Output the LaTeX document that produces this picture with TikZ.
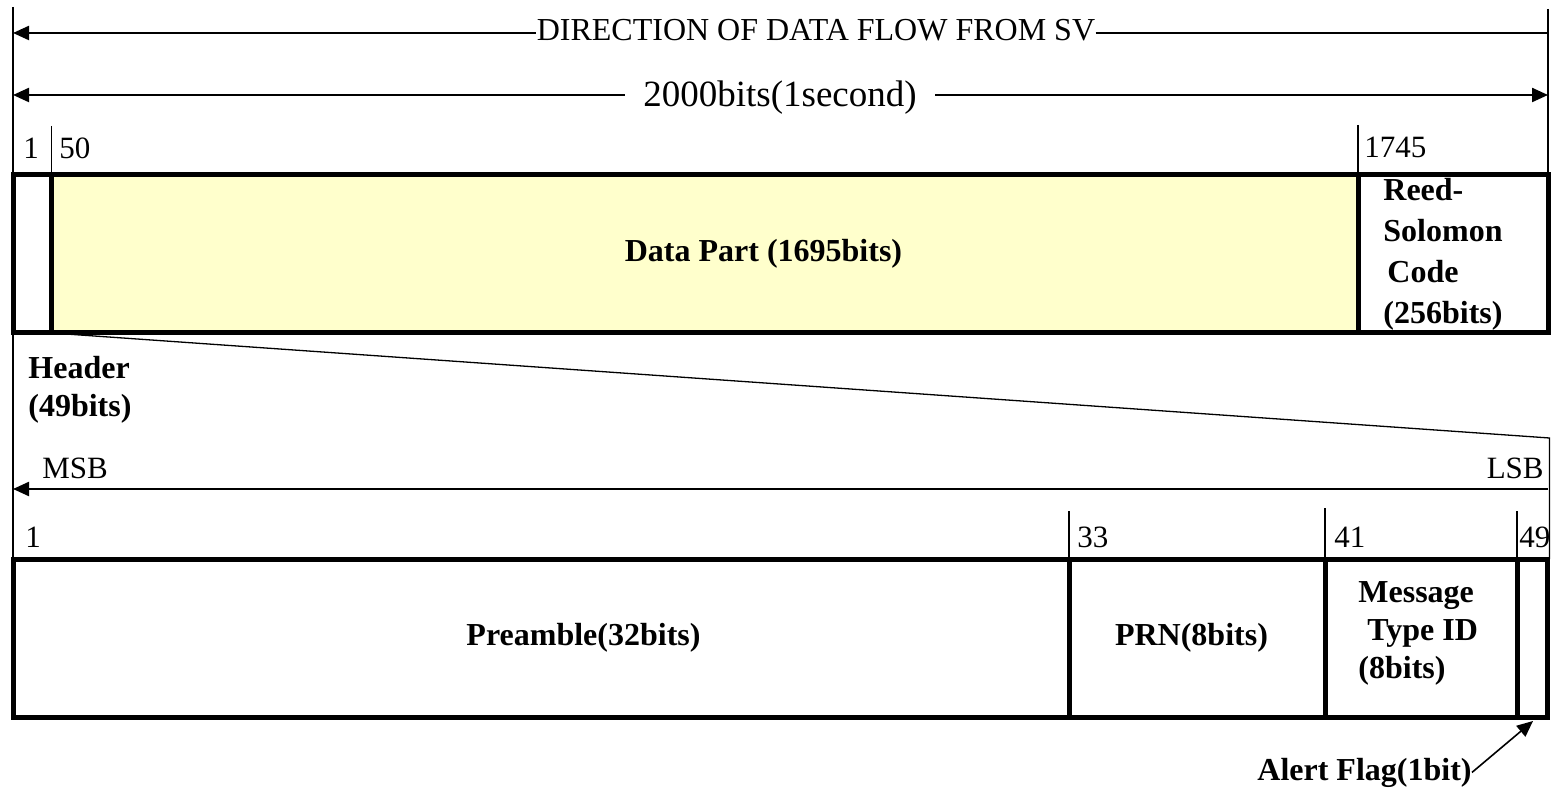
\documentclass[tikz,border=0pt]{standalone}
\usepackage{fontspec}
\setmainfont{Liberation Serif}
\usetikzlibrary{arrows.meta}
\definecolor{datafill}{HTML}{FFFFCC}
\begin{document}
\begin{tikzpicture}[x=0.5pt,y=-0.5pt,
  cellbox/.style={draw, line width=2.5pt, inner sep=0pt, outer sep=0pt, minimum height=79pt},
  thinline/.style={line width=0.65pt},
  arrline/.style={line width=1.1pt},
  lefttip/.style={{Triangle[length=8pt,width=7pt]}-},
  righttip/.style={-{Triangle[length=8pt,width=7pt]}},
  lbl/.style={inner sep=0pt, font=\fontsize{15.5}{19}\selectfont},
  blbl/.style={inner sep=0pt, font=\fontsize{16}{19}\selectfont\bfseries},
]
\useasboundingbox (0,0) rectangle (1556,790);

% ---- coordinates
\coordinate (topL) at (13,7);
\coordinate (topR) at (1548,9);
\coordinate (a1L) at (13,33);
\coordinate (a1R) at (1548,33);
\coordinate (a2L) at (13,95);
\coordinate (a2R) at (1548,95);
\coordinate (t50) at (51.5,126);
\coordinate (t1745) at (1358,125);
\coordinate (slR) at (1549.5,438);
\coordinate (msbL) at (13,489);
\coordinate (msbR) at (1548,489);
\coordinate (t33) at (1069,511);
\coordinate (t41) at (1325,508);
\coordinate (t49) at (1517,511);
\coordinate (alertTip) at (1533,721);

% ---- top frame
\node[cellbox, fill=datafill, minimum width=653.25pt] (datacell) at (704.75,254) {};
\node[cellbox, fill=white, minimum width=19.25pt] (hdrcell) at (32.25,254) {};
\node[cellbox, fill=white, minimum width=95pt] (rscell) at (1453,254) {};
\node[blbl] (datalbl) at (763.5,254) {Data Part (1695bits)};
\node[blbl, align=left, anchor=north west, font=\fontsize{16}{20.5}\selectfont\bfseries] (rslbl) at (1383,177.5) {Reed-\\Solomon\\\hspace{2pt}Code\\(256bits)};

% ---- lower frame
\node[cellbox, fill=white, minimum width=528pt] (precell) at (541,638) {};
\node[cellbox, fill=white, minimum width=128pt] (prncell) at (1197,638) {};
\node[cellbox, fill=white, minimum width=96pt] (msgcell) at (1421,638) {};
\node[cellbox, fill=white, minimum width=15pt] (alertcell) at (1532,638) {};
\node[blbl] (prelbl) at (583.5,638) {Preamble(32bits)};
\node[blbl] (prnlbl) at (1191.5,638) {PRN(8bits)};
\node[blbl, align=left, anchor=north west] (msglbl) at (1358,581) {Message\\\hspace{4.5pt}Type ID\\(8bits)};

% ---- top guides and arrows
\draw[thinline] (topL) -- (hdrcell.north west);
\draw[thinline] (topR) -- (rscell.north east);

\node[anchor=base, inner sep=0pt, font=\fontsize{16}{19}\selectfont] (dirlbl) at (816,41) {DIRECTION OF DATA FLOW FROM SV};
\draw[arrline, lefttip] (a1L) -- (a1L -| dirlbl.west);
\draw[arrline] (a1R -| dirlbl.east) -- (a1R);

\node[anchor=base, inner xsep=9pt, inner ysep=0pt, font=\fontsize{18.5}{22}\selectfont] (bitslbl) at (780,107) {2000bits(1second)};
\draw[arrline, lefttip] (a2L) -- (a2L -| bitslbl.west);
\draw[arrline, righttip] (a2R -| bitslbl.east) -- (a2R);

% ---- top ticks
\draw[thinline] (t50) -- (hdrcell.north east);
\draw[thinline] (t1745) -- (rscell.north west);
\node[lbl, anchor=base west] (l1) at (23,159) {1};
\node[lbl, anchor=base west] (l50) at (59,159) {50};
\node[lbl, anchor=base west] (l1745) at (1364,158) {1745};

% ---- header mapping
\node[blbl, align=left, anchor=north west] (hdrlbl) at (28,355.5) {Header\\(49bits)};
\draw[thinline] (hdrcell.south east) -- (slR) -- (slR |- alertcell.north);
\draw[thinline] (hdrcell.south west) -- (precell.north west);

% ---- MSB / LSB
\draw[arrline, lefttip] (msbL) -- (msbR);
\node[lbl, anchor=base west] (msblbl) at (42,479) {MSB};
\node[lbl, anchor=base east] (lsblbl) at (1544,479) {LSB};

% ---- lower ticks
\draw[thinline] (t33) -- (prncell.north west);
\draw[thinline] (t41) -- (msgcell.north west);
\draw[thinline] (t49) -- (alertcell.north west);
\node[lbl, anchor=base west] (b1) at (25,547) {1};
\node[lbl, anchor=base west] (b33) at (1077,547) {33};
\node[lbl, anchor=base west] (b41) at (1334,547) {41};
\node[lbl, anchor=base west] (b49) at (1519,547) {49};

% ---- alert flag
\node[blbl, anchor=base west] (alertlbl) at (1257,780) {Alert Flag(1bit)};
\draw[line width=0.8pt, -{Triangle[length=8pt,width=7pt]}] (alertlbl.east) -- (alertTip);
\end{tikzpicture}
\end{document}
